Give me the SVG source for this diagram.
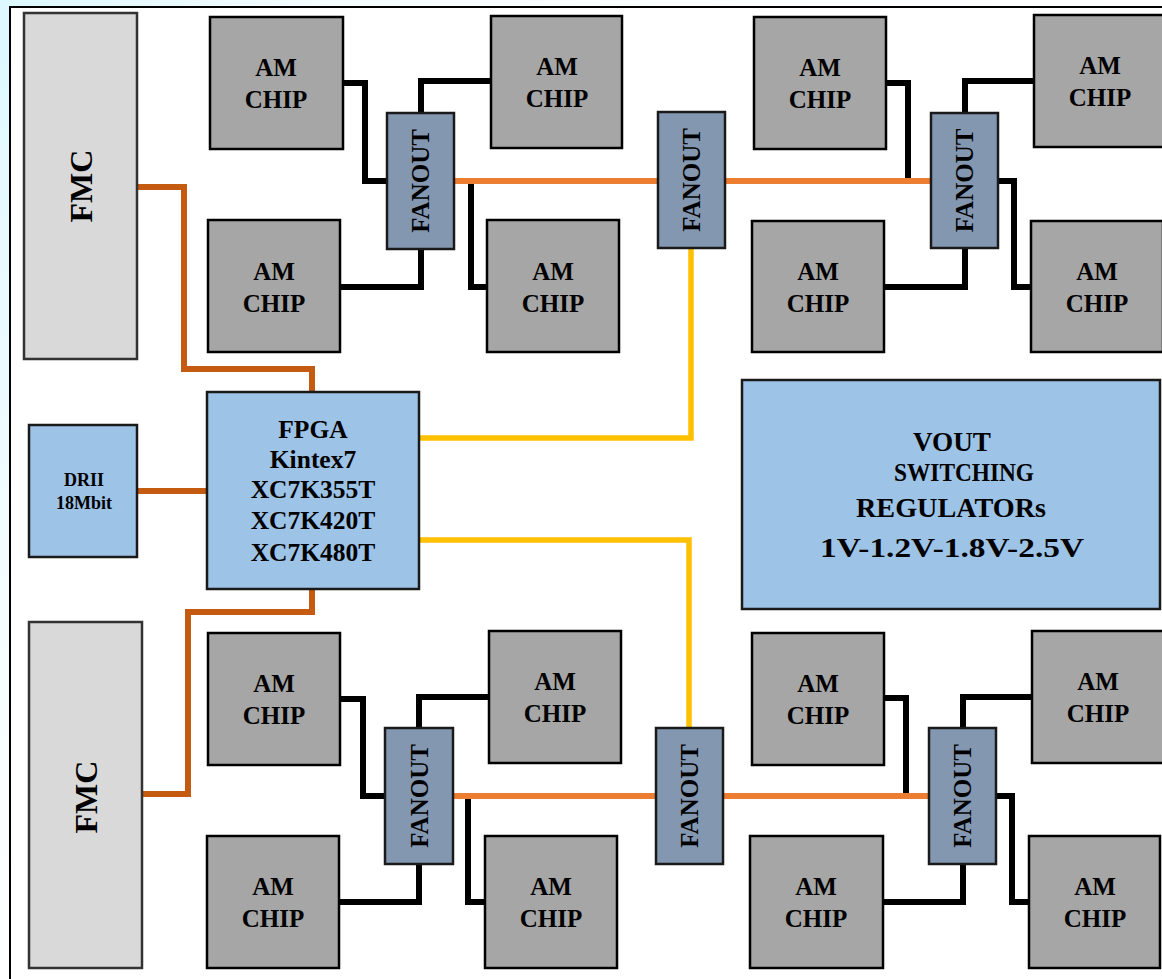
<svg xmlns="http://www.w3.org/2000/svg" width="1162" height="979" viewBox="0 0 1162 979">
<style>
.t{font-family:"Liberation Serif","Times New Roman",serif;font-weight:bold;fill:#000;text-anchor:middle}
.chip{fill:#A6A6A6;stroke:#000;stroke-width:2.5}
.fan{fill:#8497B0;stroke:#1a1a1a;stroke-width:2.5}
.blue{fill:#9DC3E6;stroke:#1a1a1a;stroke-width:2.5}
.fmc{fill:#D9D9D9;stroke:#333;stroke-width:2.5}
.blk{fill:none;stroke:#000;stroke-width:6;stroke-linejoin:miter}
.org{fill:none;stroke:#ED7D31;stroke-width:6}
.brn{fill:none;stroke:#C55A11;stroke-width:6;stroke-linejoin:miter}
.yel{fill:none;stroke:#FFC000;stroke-width:5.5;stroke-linejoin:miter}
.ct{font-size:25px}
.ft{font-size:25px}
</style>
<defs>
<linearGradient id="edge" x1="0" y1="0" x2="0" y2="1">
<stop offset="0" stop-color="#DDF8FF"/>
<stop offset="0.6" stop-color="#F4FDFF"/>
<stop offset="1" stop-color="#FFFFFF"/>
</linearGradient>
<linearGradient id="topedge" x1="0" y1="0" x2="1" y2="0">
<stop offset="0" stop-color="#DDF8FF"/>
<stop offset="0.3" stop-color="#F6FDFF"/>
<stop offset="1" stop-color="#FFFFFF"/>
</linearGradient>
</defs>
<rect x="0" y="0" width="1162" height="979" fill="#FFFFFF"/>
<rect x="0" y="0" width="10" height="979" fill="url(#edge)"/>
<rect x="0" y="0" width="1162" height="7" fill="url(#topedge)"/>
<g id="frame">
<path d="M10,979 V7 H1162" fill="none" stroke="#000" stroke-width="2"/>
</g>
<g id="connectors">
<path class="blk" d="M343,83 H365 V181 H387"/>
<path class="blk" d="M421,113 V81 H491"/>
<path class="blk" d="M471,181 V287 H487"/>
<path class="blk" d="M421,249 V287 H340"/>
<path class="blk" d="M886,83 H908 V181 H931"/>
<path class="blk" d="M965,113 V81 H1034"/>
<path class="blk" d="M998,181 H1014 V287 H1031"/>
<path class="blk" d="M965,248 V287 H884"/>
<path class="blk" d="M340,699 H363 V796 H385"/>
<path class="blk" d="M419,728 V697 H489"/>
<path class="blk" d="M468,796 V902 H485"/>
<path class="blk" d="M419,864 V902 H339"/>
<path class="blk" d="M884,698 H906 V796 H929"/>
<path class="blk" d="M963,728 V697 H1032"/>
<path class="blk" d="M996,796 H1012 V902 H1029"/>
<path class="blk" d="M963,864 V902 H883"/>
<path class="org" d="M454,181 H658"/>
<path class="org" d="M725,181 H931"/>
<path class="org" d="M453,796 H656"/>
<path class="org" d="M723,796 H929"/>
<path class="brn" d="M137,187 H184 V369 H312 V392"/>
<path class="brn" d="M137,491 H207"/>
<path class="brn" d="M312,589 V612 H188 V794 H142"/>
<path class="yel" d="M691,248 V438 H419"/>
<path class="yel" d="M419,540 H689 V728"/>
</g>
<g id="fmc-top"><rect class="fmc" x="24" y="13" width="113" height="346"/><text class="t" font-size="32" transform="translate(81,186) rotate(-90)" x="0" y="11">FMC</text></g>
<g id="fmc-bottom"><rect class="fmc" x="29" y="622" width="113" height="346"/><text class="t" font-size="32" transform="translate(86,797) rotate(-90)" x="0" y="11">FMC</text></g>
<g id="drii"><rect class="blue" x="29" y="425" width="108" height="132"/><text class="t" font-size="18" x="84" y="486">DRII</text><text class="t" font-size="18" x="84" y="509">18Mbit</text></g>
<g id="fpga"><rect class="blue" x="207" y="392" width="212" height="197"/>
<text class="t" font-size="25.5" x="313" y="438">FPGA</text>
<text class="t" font-size="25.5" x="313" y="468">Kintex7</text>
<text class="t" font-size="25.5" x="313" y="498">XC7K355T</text>
<text class="t" font-size="25.5" x="313" y="529">XC7K420T</text>
<text class="t" font-size="25.5" x="313" y="561">XC7K480T</text></g>
<g id="vout"><rect class="blue" x="742" y="380" width="418" height="229"/>
<text class="t" font-size="27" x="952" y="451" textLength="78" lengthAdjust="spacingAndGlyphs">VOUT</text>
<text class="t" font-size="26" x="964" y="481" textLength="140" lengthAdjust="spacingAndGlyphs">SWITCHING</text>
<text class="t" font-size="27" x="951" y="517" textLength="190" lengthAdjust="spacingAndGlyphs">REGULATORs</text>
<text class="t" font-size="28" x="952" y="557" textLength="264" lengthAdjust="spacingAndGlyphs">1V-1.2V-1.8V-2.5V</text></g>
<g id="fanout-1"><rect class="fan" x="387" y="113" width="67" height="136"/><text class="t ft" transform="translate(420.5,181) rotate(-90)" x="0" y="8.5">FANOUT</text></g>
<g id="fanout-2"><rect class="fan" x="658" y="112" width="67" height="136"/><text class="t ft" transform="translate(691.5,180) rotate(-90)" x="0" y="8.5">FANOUT</text></g>
<g id="fanout-3"><rect class="fan" x="931" y="113" width="67" height="135"/><text class="t ft" transform="translate(964.5,180.5) rotate(-90)" x="0" y="8.5">FANOUT</text></g>
<g id="fanout-4"><rect class="fan" x="385" y="728" width="68" height="136"/><text class="t ft" transform="translate(419,796) rotate(-90)" x="0" y="8.5">FANOUT</text></g>
<g id="fanout-5"><rect class="fan" x="656" y="728" width="67" height="136"/><text class="t ft" transform="translate(689.5,796) rotate(-90)" x="0" y="8.5">FANOUT</text></g>
<g id="fanout-6"><rect class="fan" x="929" y="728" width="67" height="136"/><text class="t ft" transform="translate(962.5,796) rotate(-90)" x="0" y="8.5">FANOUT</text></g>
<g id="chip-a1"><rect class="chip" x="210" y="17" width="133" height="132"/><text class="t ct" x="276" y="76">AM</text><text class="t ct" x="276" y="108">CHIP</text></g>
<g id="chip-a2"><rect class="chip" x="491" y="16" width="131" height="132"/><text class="t ct" x="557" y="75">AM</text><text class="t ct" x="557" y="107">CHIP</text></g>
<g id="chip-a3"><rect class="chip" x="208" y="220" width="132" height="132"/><text class="t ct" x="274" y="280">AM</text><text class="t ct" x="274" y="312">CHIP</text></g>
<g id="chip-a4"><rect class="chip" x="487" y="220" width="132" height="132"/><text class="t ct" x="553" y="280">AM</text><text class="t ct" x="553" y="312">CHIP</text></g>
<g id="chip-b1"><rect class="chip" x="754" y="17" width="132" height="132"/><text class="t ct" x="820" y="76">AM</text><text class="t ct" x="820" y="108">CHIP</text></g>
<g id="chip-b2"><rect class="chip" x="1034" y="15" width="132" height="132"/><text class="t ct" x="1100" y="74">AM</text><text class="t ct" x="1100" y="106">CHIP</text></g>
<g id="chip-b3"><rect class="chip" x="752" y="221" width="132" height="131"/><text class="t ct" x="818" y="280">AM</text><text class="t ct" x="818" y="312">CHIP</text></g>
<g id="chip-b4"><rect class="chip" x="1031" y="221" width="132" height="131"/><text class="t ct" x="1097" y="280">AM</text><text class="t ct" x="1097" y="312">CHIP</text></g>
<g id="chip-c1"><rect class="chip" x="208" y="633" width="132" height="132"/><text class="t ct" x="274" y="692">AM</text><text class="t ct" x="274" y="724">CHIP</text></g>
<g id="chip-c2"><rect class="chip" x="489" y="631" width="132" height="132"/><text class="t ct" x="555" y="690">AM</text><text class="t ct" x="555" y="722">CHIP</text></g>
<g id="chip-c3"><rect class="chip" x="207" y="836" width="132" height="132"/><text class="t ct" x="273" y="895">AM</text><text class="t ct" x="273" y="927">CHIP</text></g>
<g id="chip-c4"><rect class="chip" x="485" y="836" width="132" height="132"/><text class="t ct" x="551" y="895">AM</text><text class="t ct" x="551" y="927">CHIP</text></g>
<g id="chip-d1"><rect class="chip" x="752" y="633" width="132" height="132"/><text class="t ct" x="818" y="692">AM</text><text class="t ct" x="818" y="724">CHIP</text></g>
<g id="chip-d2"><rect class="chip" x="1032" y="631" width="132" height="132"/><text class="t ct" x="1098" y="690">AM</text><text class="t ct" x="1098" y="722">CHIP</text></g>
<g id="chip-d3"><rect class="chip" x="750" y="836" width="133" height="132"/><text class="t ct" x="816" y="895">AM</text><text class="t ct" x="816" y="927">CHIP</text></g>
<g id="chip-d4"><rect class="chip" x="1029" y="836" width="131" height="132"/><text class="t ct" x="1095" y="895">AM</text><text class="t ct" x="1095" y="927">CHIP</text></g>
</svg>
